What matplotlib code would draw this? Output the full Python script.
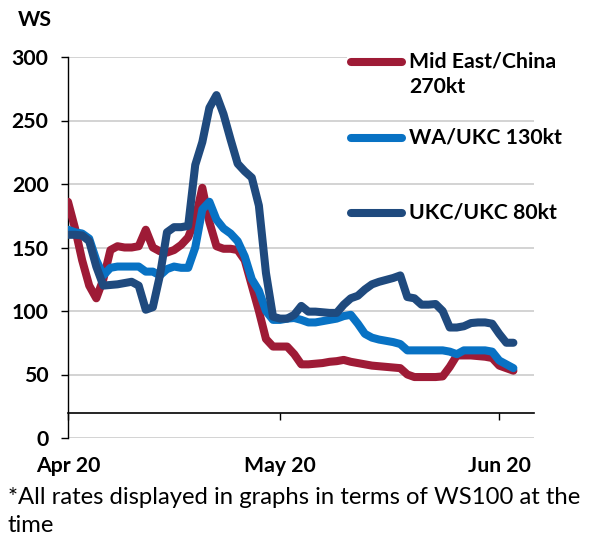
import matplotlib
matplotlib.use("Agg")
import matplotlib.pyplot as plt
import matplotlib.dates as mdates
from matplotlib.lines import Line2D
from matplotlib.patches import Rectangle
import numpy as np

# daily values, 1 Apr 2020 to 3 Jun 2020
dates = np.arange("2020-04-01", "2020-06-04", dtype="datetime64[D]")

mid_east_china = [186, 165, 140, 120, 110, 125, 148, 151, 150, 150,
                  151, 164, 150, 147, 146, 148, 152, 158, 172, 197,
                  170, 151, 149, 149, 148, 140, 120, 100, 78, 72,
                  72, 72, 66, 58, 58, 58.5, 59, 60, 60.5, 61.5,
                  60, 59, 58, 57, 56.5, 56, 55.5, 55, 50, 48,
                  48, 48, 48, 48.5, 56, 65, 65, 65, 64.5, 64,
                  63, 57, 55, 53]

wa_ukc = [164, 162, 161, 157, 140, 128, 134, 135, 135, 135,
          135, 131, 131, 128, 133, 135, 134, 134, 150, 180,
          186, 172, 165, 161, 155, 143, 125, 116, 100, 93,
          93, 94, 94.5, 93, 91, 91, 92, 93, 94, 96,
          97, 90, 82, 79, 77.5, 76.5, 75.5, 74, 69, 69,
          69, 69, 69, 69, 68, 66, 69, 69, 69, 69,
          68, 61, 58, 55]

ukc_ukc = [160, 160, 159.5, 155, 135, 120, 120.5, 121, 122, 123,
           120, 101, 103, 128, 162, 166, 166, 167, 215, 233,
           260, 270, 255, 235, 216, 210, 205, 183, 130, 95.5,
           94, 94, 97, 104, 99.5, 99.5, 99, 98.5, 98.5, 105,
           110, 112, 117, 121, 123, 124.5, 126, 128, 111, 110,
           105, 105, 105.5, 100, 87, 87, 88, 90.5, 91, 91,
           90, 82, 75, 75]

series_names = ["Mid East/China", "WA/UKC 130kt", "UKC/UKC 80kt"]
colors = ["#9E1B36", "#0872C4", "#1F4A7E"]

W, H = 589, 540
def fx(x):
    return x / W
def fy(y):
    return 1 - y / H

fig = plt.figure(figsize=(5.89, 5.40), dpi=100)
ax = fig.add_axes([fx(68), fy(438), (534 - 68) / W, (438 - 57) / H])

for vals, c in zip([mid_east_china, wa_ukc, ukc_ukc], colors):
    ax.plot(dates, vals, color=c, lw=5.8, solid_capstyle="round",
            solid_joinstyle="round", zorder=3)

ax.set_ylim(0, 300)
ax.set_yticks(range(0, 301, 50))
ax.set_xlim(np.datetime64("2020-04-01"), np.datetime64("2020-06-05T22"))
ax.xaxis.set_major_locator(mdates.MonthLocator())
ax.xaxis.set_major_formatter(mdates.DateFormatter("%b %y"))

ax.yaxis.grid(True, color="#c8c8c8", lw=1.1)
ax.set_axisbelow(True)
for s in ["top", "right"]:
    ax.spines[s].set_visible(False)
ax.spines["bottom"].set_position(("data", 20))
ax.spines["bottom"].set_linewidth(1.2)
ax.spines["left"].set_linewidth(1.0)

fs = 15.3
tick_font = dict(family="Lato", weight="bold", size=fs)
ax.tick_params(axis="y", direction="out", length=5, width=1, pad=9, labelsize=fs)
ax.tick_params(axis="x", direction="out", length=5, width=1, pad=26, labelsize=fs)
for lab in ax.get_xticklabels() + ax.get_yticklabels():
    lab.set_fontfamily("Lato")
    lab.set_fontweight("bold")

fig.text(fx(18), fy(20), "WS", ha="left", va="center", **tick_font)

# legend
fig.patches.append(Rectangle((fx(347), fy(60)), fx(536) - fx(347), 5 / H,
                             transform=fig.transFigure, facecolor="white",
                             edgecolor="none", zorder=5))
leg_y = [62, 138, 213]
for name, c, y in zip(series_names, colors, leg_y):
    fig.lines.append(Line2D([fx(351), fx(402)], [fy(y), fy(y)], color=c, lw=5.8,
                            solid_capstyle="round", transform=fig.transFigure,
                            zorder=6))
    fig.text(fx(409), fy(y), name, ha="left", va="center", zorder=7, **tick_font)
fig.text(fx(409), fy(87), "270kt", ha="left", va="center", **tick_font)

note_font = dict(family="Lato", size=17.2)
fig.text(fx(8), fy(498), "*All rates displayed in graphs in terms of WS100 at the",
         ha="left", va="center", **note_font)
fig.text(fx(8), fy(525), "time", ha="left", va="center", **note_font)

fig.savefig("out.png", dpi=100)
